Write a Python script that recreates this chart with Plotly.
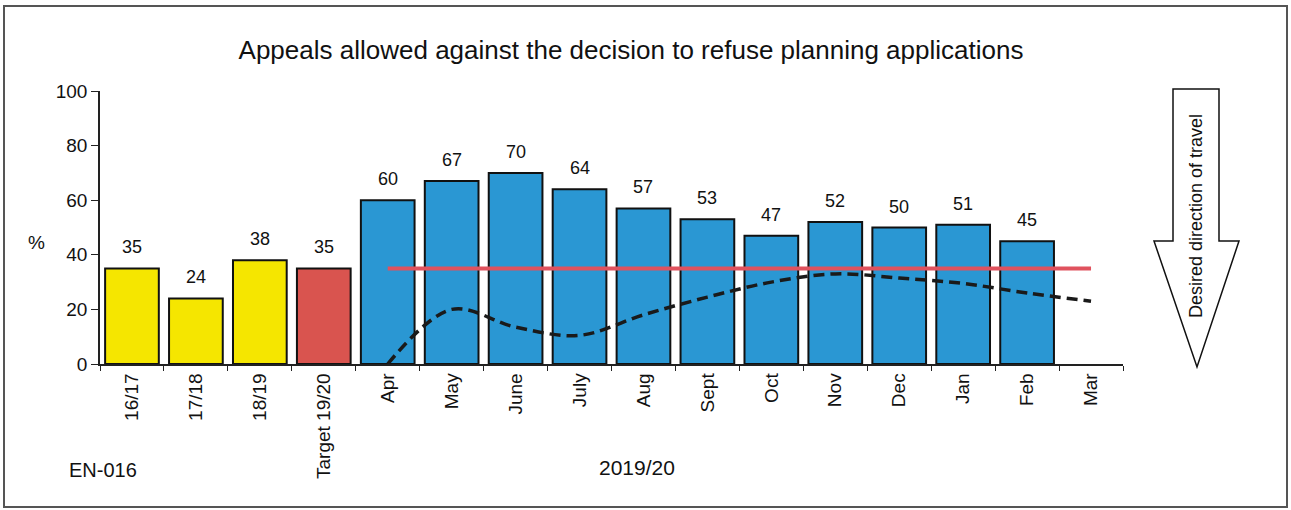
import plotly.graph_objects as go

categories = ["16/17", "17/18", "18/19", "Target 19/20", "Apr", "May", "June", "July",
              "Aug", "Sept", "Oct", "Nov", "Dec", "Jan", "Feb", "Mar"]
bar_values = [35, 24, 38, 35, 60, 67, 70, 64, 57, 53, 47, 52, 50, 51, 45, None]
bar_colors = ["#F5E600", "#F5E600", "#F5E600", "#D9544F"] + ["#2A97D3"] * 12

months = ["Apr", "May", "June", "July", "Aug", "Sept", "Oct", "Nov", "Dec", "Jan", "Feb", "Mar"]
target_values = [35] * 12
trend_values = [0, 20, 13.5, 10.5, 18, 24.5, 30, 33, 31.5, 29.5, 26, 23]

y_ticks = [0, 20, 40, 60, 80, 100]

W, H = 1291, 510
ML, MR, MT, MB = 100, 168, 91, 146
PW, PH = W - ML - MR, H - MT - MB


def px(x):
    return (x - ML) / PW


def py(y):
    return 1 - (y - MT) / PH


FONT = "Liberation Sans, Arial, sans-serif"
INK = "#111111"

fig = go.Figure()
fig.add_trace(go.Bar(
    x=categories, y=bar_values,
    marker=dict(color=bar_colors, line=dict(color=INK, width=2)),
    showlegend=False, hoverinfo="x+y",
))
fig.add_trace(go.Scatter(
    x=months, y=target_values, mode="lines",
    line=dict(color="#E0525E", width=4), showlegend=False,
))
fig.add_trace(go.Scatter(
    x=months, y=trend_values, mode="lines",
    line=dict(color="#1a1a1a", width=3.5, dash="11px,6px", shape="spline", smoothing=1),
    showlegend=False,
))

annotations = []
for c, v in zip(categories, bar_values):
    if v is None:
        continue
    annotations.append(dict(x=c, y=v, xref="x", yref="y", text=str(v), showarrow=False,
                            xanchor="center", yanchor="bottom", yshift=9,
                            font=dict(family=FONT, size=18, color=INK)))

annotations += [
    dict(x=px(36), y=py(242), xref="paper", yref="paper", text="%", showarrow=False,
         xanchor="center", yanchor="middle",
         font=dict(family=FONT, size=19, color=INK)),
    dict(x=px(103), y=py(470), xref="paper", yref="paper", text="EN-016", showarrow=False,
         xanchor="center", yanchor="middle",
         font=dict(family=FONT, size=20, color=INK)),
    dict(x=px(637), y=py(467), xref="paper", yref="paper", text="2019/20", showarrow=False,
         xanchor="center", yanchor="middle",
         font=dict(family=FONT, size=21, color=INK)),
    dict(x=px(1196), y=py(216), xref="paper", yref="paper", text="Desired direction of travel",
         showarrow=False, textangle=-90, xanchor="center", yanchor="middle",
         font=dict(family=FONT, size=18, color=INK)),
]

arrow_pts = [(1173, 89), (1219, 89), (1219, 241), (1239, 241), (1197, 367), (1154, 241), (1173, 241)]
path = "M " + " L ".join(f"{px(x):.5f},{py(y):.5f}" for x, y in arrow_pts) + " Z"

shapes = [
    dict(type="rect", xref="paper", yref="paper", x0=px(4), x1=px(1287), y0=py(507), y1=py(6),
         line=dict(color="#555555", width=2), fillcolor="rgba(0,0,0,0)", layer="below"),
    dict(type="path", xref="paper", yref="paper", path=path,
         line=dict(color=INK, width=1.5), fillcolor="white"),
]

fig.update_layout(
    width=W, height=H,
    margin=dict(l=ML, r=MR, t=MT, b=MB),
    paper_bgcolor="white", plot_bgcolor="white",
    bargap=0.16,
    title=dict(text="Appeals allowed against the decision to refuse planning applications",
               xref="container", x=631 / W, xanchor="center", y=1 - 50 / H, yanchor="middle",
               font=dict(family=FONT, size=26, color=INK)),
    font=dict(family=FONT, size=19, color=INK),
    xaxis=dict(type="category", categoryorder="array", categoryarray=categories,
               range=[-0.5, len(categories) - 0.5],
               showline=True, linecolor="#222222", linewidth=1.5,
               ticks="outside", tickson="boundaries", ticklen=5, tickcolor="#222222",
               tickangle=-90, tickfont=dict(family=FONT, size=19, color=INK),
               showgrid=False, zeroline=False),
    yaxis=dict(range=[0, 100], tickvals=y_ticks,
               showline=True, linecolor="#222222", linewidth=1.5,
               ticks="outside", ticklen=7, tickcolor="#222222",
               tickfont=dict(family=FONT, size=19, color=INK),
               showgrid=False, zeroline=False),
    annotations=annotations,
    shapes=shapes,
)

fig.write_html("out.html", config={"displayModeBar": False},
               post_script="document.body.style.margin='0';")
